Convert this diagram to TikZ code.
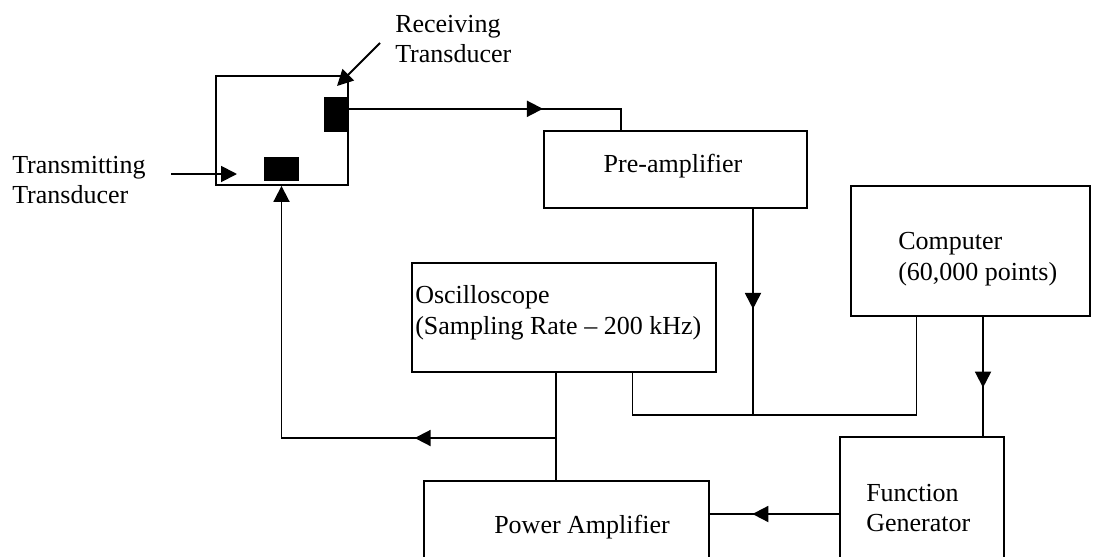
\documentclass[tikz,border=0pt]{standalone}
\usepackage{fontspec}
\setmainfont{Liberation Serif}
\usetikzlibrary{positioning,arrows.meta,calc,fit,decorations.markings}
\tikzset{
  blk/.style={draw,line width=1.4pt,inner sep=0pt},
  xdcr/.style={draw=none,fill=black,inner sep=0pt},
  wire/.style={line width=1.4pt},
  endarr/.style={-{Triangle[length=12pt,width=12pt]}},
  midarr/.style={postaction={decorate},decoration={markings,
      mark=at position #1 with {\arrow{Triangle[length=12pt,width=12pt]}}}}, % arrow inside a wire
  lbl/.style={font=\fontsize{19.5}{23}\selectfont,inner sep=0pt,align=left},
}
\begin{document}
\begin{tikzpicture}[x=0.75pt,y=-0.75pt]
  \useasboundingbox (0,0) rectangle (1093,557);
  \clip (0,0) rectangle (1093,557);
  % tank with the two transducers
  \node[blk,fit={(216,76) (348,185)}] (tank) {};
  \node[xdcr,fit={(324,97) (348,132)}] (rx) {};
  \node[xdcr,fit={(264,157) (299,181)}] (tx) {};
  \node[lbl,anchor=west] (rxlbl) at (395,39) {Receiving\\Transducer};
  \node[lbl,anchor=west] (txlbl) at (12,180) {Transmitting\\Transducer};
  \coordinate (rxp) at (380,43);
  \coordinate (txp) at (171,174);
  \draw[wire,endarr] (rxp) -- ++(-43,43);
  \draw[wire,endarr] (txp) -- ++(66,0);
  % instrument boxes
  \node[blk,fit={(544,131) (807,208)}] (preamp) {};
  \node[blk,fit={(412,263) (716,372)}] (scope) {};
  \node[blk,fit={(851,186) (1090,316)}] (comp) {};
  \node[blk,fit={(424,481) (709,640)}] (pamp) {};
  \node[blk,fit={(840,437) (1004,591)}] (fgen) {};
  \node[lbl] (prelbl) at (673,166) {Pre-amplifier};
  \node[lbl,anchor=west] (scopelbl) at (415,313) {Oscilloscope\\(Sampling Rate -- 200 kHz)};
  \node[lbl,anchor=west] (complbl) at (898,259) {Computer\\(60,000 points)};
  \node[lbl] (pamplbl) at (582,527) {Power Amplifier};
  \node[lbl,anchor=west] (fgenlbl) at (866,508) {Function\\Generator};
  % wiring
  \coordinate (bus) at (753,415);
  \coordinate (tap) at (556,438);
  \coordinate (cf) at ($(comp.south west)!0.552!(comp.south east)$);
  \draw[wire,midarr=146pt] ($(rx.north east)!0.34!(rx.south east)$)
    -| ($(preamp.north west)!0.295!(preamp.north east)$);
  \draw[wire,midarr=75pt] (bus |- preamp.south) -- (bus);
  \draw[wire] ($(scope.south west)!0.724!(scope.south east)$) |- (bus)
    -| ($(comp.south west)!0.276!(comp.south east)$);
  \draw[wire] (tap |- scope.south) -- (tap |- pamp.north);
  \draw[wire,midarr=106pt,endarr] (tap) -| (tx.south |- tank.south);
  \draw[wire,midarr=53pt] (cf) -- (cf |- fgen.north);
  \draw[wire,midarr=65pt] (fgen.west) -- (fgen.west -| pamp.east);
\end{tikzpicture}
\end{document}
